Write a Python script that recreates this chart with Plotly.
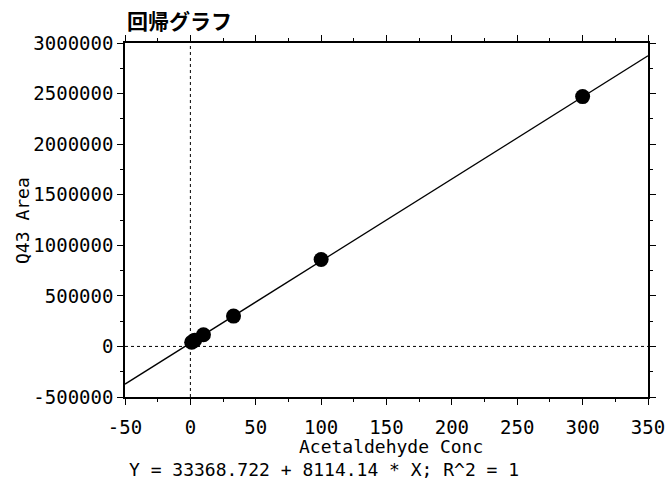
import plotly.graph_objects as go

# Data
conc = [1, 3.3, 10, 33, 100, 300]
area = [42000, 62000, 115000, 300000, 860000, 2470000]

intercept = 33368.722
slope = 8114.14
x_range = [-50, 350]
y_range = [-500000, 3000000]

x_tickvals = [-50, 0, 50, 100, 150, 200, 250, 300, 350]
x_ticktext = ["-50", "0", "50", "100", "150", "200", "250", "300", "350"]
y_tickvals = [-500000, 0, 500000, 1000000, 1500000, 2000000, 2500000, 3000000]
y_ticktext = ["-500000", "0", "500000", "1000000", "1500000", "2000000", "2500000", "3000000"]

title_text = "回帰グラフ"
x_title = "Acetaldehyde Conc"
y_title = "Q43 Area"
eq_text = "Y = 33368.722 + 8114.14 * X; R^2 = 1"

mono = "DejaVu Sans Mono"

fig = go.Figure()

# regression line across the axis range
line_x = x_range
line_y = [intercept + slope * v for v in line_x]
fig.add_trace(go.Scatter(x=line_x, y=line_y, mode="lines",
                         line=dict(color="black", width=1.3),
                         hoverinfo="skip", showlegend=False))

fig.add_trace(go.Scatter(x=conc, y=area, mode="markers",
                         marker=dict(color="black", size=15),
                         showlegend=False))

fig.add_vline(x=0, line=dict(color="black", width=1, dash="dot"))
fig.add_hline(y=0, line=dict(color="black", width=1, dash="dot"))

axis_common = dict(
    showline=True, linecolor="black", linewidth=1.5, mirror="allticks",
    ticks="outside", ticklen=6, tickwidth=1.2, tickcolor="black",
    showgrid=False, zeroline=False, automargin=False,
    tickfont=dict(family=mono, size=19, color="black"),
    minor=dict(ticks="outside", ticklen=3, tickwidth=1, tickcolor="black", showgrid=False),
)

fig.update_xaxes(range=x_range, tickmode="array", tickvals=x_tickvals, ticktext=x_ticktext,
                 ticklabelstandoff=6, **axis_common)
fig.update_xaxes(minor=dict(tickmode="linear", tick0=-25, dtick=50))
fig.update_yaxes(range=y_range, tickmode="array", tickvals=y_tickvals, ticktext=y_ticktext,
                 **axis_common)
fig.update_yaxes(minor=dict(tickmode="linear", tick0=-250000, dtick=500000))

fig.update_layout(
    width=667, height=486,
    margin=dict(l=125, r=19, t=43, b=89),
    paper_bgcolor="white", plot_bgcolor="white",
    title=dict(text="<b>" + title_text + "</b>", x=127/667, xanchor="left", y=1-22/486, yanchor="middle",
               xref="container", yref="container",
               font=dict(family="Noto Sans CJK JP", size=21, color="black")),
    annotations=[
        dict(text=x_title, x=0.509, y=-0.141, xref="paper", yref="paper",
             showarrow=False, xanchor="center", yanchor="middle",
             font=dict(family=mono, size=18, color="black")),
        dict(text=eq_text, x=0.004, y=-0.206, xref="paper", yref="paper",
             showarrow=False, xanchor="left", yanchor="middle",
             font=dict(family=mono, size=18, color="black")),
        dict(text=y_title, x=-0.197, y=0.5, xref="paper", yref="paper",
             showarrow=False, xanchor="center", yanchor="middle", textangle=-90,
             font=dict(family=mono, size=18, color="black")),
    ],
)

fig.write_html("out.html")
